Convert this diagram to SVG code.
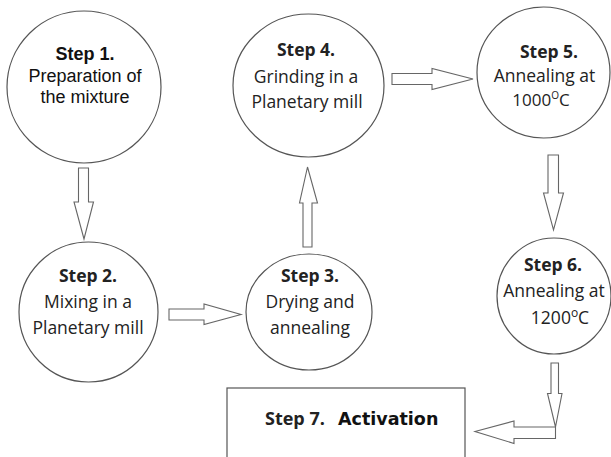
<svg xmlns="http://www.w3.org/2000/svg" width="611" height="457" viewBox="0 0 611 457">
<style>
.node{fill:#fff;stroke:#555;stroke-width:1.2}
.arr{fill:#fff;stroke:#666;stroke-width:1.1;stroke-linejoin:miter}
.a{font-family:"Liberation Sans",Arial,sans-serif;font-size:18px;fill:#111;text-anchor:middle}
.s{font-family:"Open Sans","Noto Sans",sans-serif;font-size:17.5px;fill:#222;text-anchor:middle}
.b{font-weight:bold}
.sup{font-size:10px}
</style>
<rect width="611" height="457" fill="#fff"/>
<g id="connectors">
<polygon class="arr" points="78.5,168 88.5,168 88.5,202 93.5,202 84,239 74,202 78.5,202"/>
<polygon class="arr" points="303,247 312,247 312,203 317.5,203 307.5,167 299.5,203 303,203"/>
<polygon class="arr" points="169,309 204,309 204,304 241,314.5 204,324.5 204,320 169,320"/>
<polygon class="arr" points="392,73.5 432,73.5 432,68.5 473,79 432,89.5 432,84.5 392,84.5"/>
<polygon class="arr" points="548,155 558.5,155 558.5,193 563.5,193 553.5,230 543.5,193 548,193"/>
<polygon class="arr" points="551,363 558.5,363 558.5,393.5 562,393.5 555.5,427 547.5,393.5 551,393.5"/>
<polygon class="arr" points="555.5,427 555.5,438.5 514,438.5 514,443.5 475,431.5 514,421 514,427"/>
</g>
<g id="step1">
<ellipse class="node" cx="84" cy="87" rx="77" ry="76"/>
<text class="a b" x="85" y="60">Step 1.</text>
<text class="a" x="85" y="82">Preparation of</text>
<text class="a" x="85" y="103">the mixture</text>
</g>
<g id="step4">
<ellipse class="node" cx="308.5" cy="85.5" rx="75.5" ry="71.5"/>
<text class="s b" x="306" y="56">Step 4.</text>
<text class="s" x="306" y="83">Grinding in a</text>
<text class="s" x="307" y="108">Planetary mill</text>
</g>
<g id="step5">
<ellipse class="node" cx="543.5" cy="72.5" rx="66.5" ry="65.5"/>
<text class="s b" x="549" y="58">Step 5.</text>
<text class="s" x="544.5" y="82">Annealing at</text>
<text class="s" x="541" y="105.5" style="font-size:17px">1000<tspan class="sup" dy="-7">O</tspan><tspan dy="7">C</tspan></text>
</g>
<g id="step2">
<ellipse class="node" cx="88.5" cy="312" rx="69.5" ry="70"/>
<text class="s b" x="88" y="282">Step 2.</text>
<text class="s" x="88" y="308">Mixing in a</text>
<text class="s" x="88" y="334">Planetary mill</text>
</g>
<g id="step3">
<ellipse class="node" cx="309" cy="312" rx="63" ry="58"/>
<text class="s b" x="310" y="282">Step 3.</text>
<text class="s" x="310" y="308">Drying and</text>
<text class="s" x="310" y="334">annealing</text>
</g>
<g id="step6">
<ellipse class="node" cx="554" cy="296" rx="57" ry="58"/>
<text class="s b" x="553" y="271">Step 6.</text>
<text class="s" x="554" y="297">Annealing at</text>
<text class="s" x="560" y="324">1200<tspan style="font-size:12px" dy="-7">o</tspan><tspan dy="7">C</tspan></text>
</g>
<g id="step7">
<rect class="node" x="227" y="388" width="238" height="80"/>
<text class="s b" x="265" y="425" style="text-anchor:start;font-size:18px">Step 7.</text>
<text x="338" y="425" font-family="'DejaVu Sans',Verdana,sans-serif" font-weight="bold" font-size="17.5" fill="#111">Activation</text>
</g>
</svg>
